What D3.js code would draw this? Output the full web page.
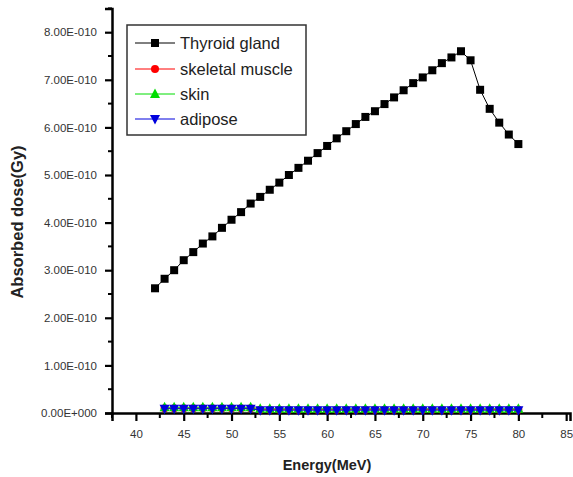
<!DOCTYPE html>
<html><head><meta charset="utf-8">
<script src="https://cdn.jsdelivr.net/npm/d3@7"></script>
<style>body{margin:0;background:#fff}svg{display:block}</style>
</head><body>
<script>
const thyroidEnergy = d3.range(42, 81);
const thyroidDose = [2.62,2.82,3.00,3.21,3.38,3.56,3.71,3.89,4.06,4.22,4.40,4.54,4.69,4.84,5.00,5.15,5.30,5.46,5.61,5.77,5.92,6.07,6.22,6.34,6.49,6.63,6.78,6.93,7.05,7.20,7.35,7.47,7.60,7.41,6.79,6.39,6.10,5.85,5.65].map(v=>v*1e-10);
const tissueEnergy = d3.range(43, 81);
const muscleDose = [0.10,0.10,0.10,0.10,0.10,0.10,0.10,0.10,0.10,0.10,0.07,0.07,0.07,0.07,0.07,0.07,0.07,0.07,0.07,0.07,0.07,0.07,0.07,0.07,0.07,0.07,0.07,0.07,0.07,0.07,0.07,0.07,0.07,0.07,0.07,0.07,0.07,0.07].map(v=>v*1e-10);
const skinDose = [0.12,0.12,0.12,0.12,0.12,0.12,0.12,0.12,0.12,0.12,0.09,0.09,0.09,0.09,0.09,0.09,0.09,0.09,0.09,0.09,0.09,0.09,0.09,0.09,0.09,0.09,0.09,0.09,0.09,0.09,0.09,0.09,0.09,0.09,0.09,0.09,0.09,0.09].map(v=>v*1e-10);
const adiposeDose = [0.09,0.09,0.09,0.09,0.09,0.09,0.09,0.09,0.09,0.09,0.06,0.06,0.06,0.06,0.06,0.06,0.06,0.06,0.06,0.06,0.06,0.06,0.06,0.06,0.06,0.06,0.06,0.06,0.06,0.06,0.06,0.06,0.06,0.06,0.06,0.06,0.06,0.06].map(v=>v*1e-10);
const xTicks = [40,45,50,55,60,65,70,75,80,85];
const yTicks = [0,1,2,3,4,5,6,7,8].map(v=>v*1e-10);
const yTickLabels = ["0.00E+000","1.00E-010","2.00E-010","3.00E-010","4.00E-010","5.00E-010","6.00E-010","7.00E-010","8.00E-010"];
const legendNames = ["Thyroid gland","skeletal muscle","skin","adipose"];
const colors = ["#000000","#ff0000","#00dd00","#0000dd"];

const W=573,H=477;
const svg=d3.select("body").append("svg").attr("width",W).attr("height",H);
const x=d3.scaleLinear().domain([37.5,85.4]).range([112,570]);
const y=d3.scaleLinear().domain([0,8.5e-10]).range([413,8.4]);

const font="'Liberation Sans', Arial, sans-serif";
const xMinor=d3.range(37.5,85.1,2.5).filter(v=>v%5!==0);
const yMinor=d3.range(0.5,8.6,1).map(v=>v*1e-10);

const xAxis=d3.axisBottom(x).tickValues(xTicks).tickSize(8).tickPadding(9).tickFormat(d3.format("d"));
const gx=svg.append("g").attr("transform",`translate(0,${y(0)})`).call(xAxis);
gx.select(".domain").attr("stroke","#000").attr("stroke-width",2.5);
gx.selectAll(".tick line").attr("stroke","#000").attr("stroke-width",2.2);
gx.selectAll(".tick text").attr("font-family",font).attr("font-size",11.5).attr("fill","#333");
svg.append("g").selectAll("line").data(xMinor).join("line")
 .attr("x1",d=>x(d)).attr("x2",d=>x(d)).attr("y1",y(0)).attr("y2",y(0)+5)
 .attr("stroke","#000").attr("stroke-width",2);

const yAxis=d3.axisLeft(y).tickValues(yTicks).tickSize(7).tickPadding(8).tickFormat((d,i)=>yTickLabels[i]);
const gy=svg.append("g").attr("transform",`translate(${x(37.5)},0)`).call(yAxis);
gy.select(".domain").attr("stroke","#000").attr("stroke-width",2.5);
gy.selectAll(".tick line").attr("stroke","#000").attr("stroke-width",2.2);
gy.selectAll(".tick text").attr("font-family",font).attr("font-size",11.5).attr("fill","#333");
svg.append("g").selectAll("line").data(yMinor).join("line")
 .attr("x1",x(37.5)).attr("x2",x(37.5)-4).attr("y1",d=>y(d)).attr("y2",d=>y(d))
 .attr("stroke","#000").attr("stroke-width",2);

svg.append("text").attr("transform",`translate(23,222) rotate(-90)`).attr("text-anchor","middle")
 .attr("font-family",font).attr("font-weight","bold").attr("font-size",16.5).attr("fill","#222").text("Absorbed dose(Gy)");
svg.append("text").attr("x",327).attr("y",470).attr("text-anchor","middle")
 .attr("font-family",font).attr("font-weight","bold").attr("font-size",14.5).attr("fill","#222").text("Energy(MeV)");

const line=d3.line().x(d=>x(d[0])).y(d=>y(d[1]));
const series=[
 {e:thyroidEnergy,v:thyroidDose,c:colors[0],m:"square"},
 {e:tissueEnergy,v:muscleDose,c:colors[1],m:"circle"},
 {e:tissueEnergy,v:skinDose,c:colors[2],m:"up"},
 {e:tissueEnergy,v:adiposeDose,c:colors[3],m:"down"}
];
function marker(g,type,cx,cy,c){
 if(type==="square") g.append("rect").attr("x",cx-4).attr("y",cy-4).attr("width",8).attr("height",8).attr("fill",c);
 else if(type==="circle") g.append("circle").attr("cx",cx).attr("cy",cy).attr("r",4).attr("fill",c);
 else if(type==="up") g.append("path").attr("d",`M${cx},${cy-5.5}L${cx+5},${cy+4}L${cx-5},${cy+4}Z`).attr("fill",c);
 else g.append("path").attr("d",`M${cx},${cy+5.5}L${cx+5},${cy-4}L${cx-5},${cy-4}Z`).attr("fill",c);
}
series.forEach(s=>{
 const pts=s.e.map((e,i)=>[e,s.v[i]]);
 svg.append("path").datum(pts).attr("d",line).attr("fill","none").attr("stroke",s.c).attr("stroke-width",1);
 const g=svg.append("g");
 pts.forEach(p=>marker(g,s.m,x(p[0]),y(p[1]),s.c));
});

const lg=svg.append("g");
lg.append("rect").attr("x",127).attr("y",25).attr("width",179).attr("height",110).attr("fill","#fff").attr("stroke","#333").attr("stroke-width",1.5);
const rowY=[43,69,94,119];
legendNames.forEach((n,i)=>{
 lg.append("line").attr("x1",135).attr("x2",175).attr("y1",rowY[i]).attr("y2",rowY[i]).attr("stroke",colors[i]).attr("stroke-width",1);
 marker(lg,series[i].m,155,rowY[i],colors[i]);
 lg.append("text").attr("x",180).attr("y",rowY[i]+6).attr("font-family",font).attr("font-size",16.5).attr("fill","#222").text(n);
});
</script>
</body></html>
